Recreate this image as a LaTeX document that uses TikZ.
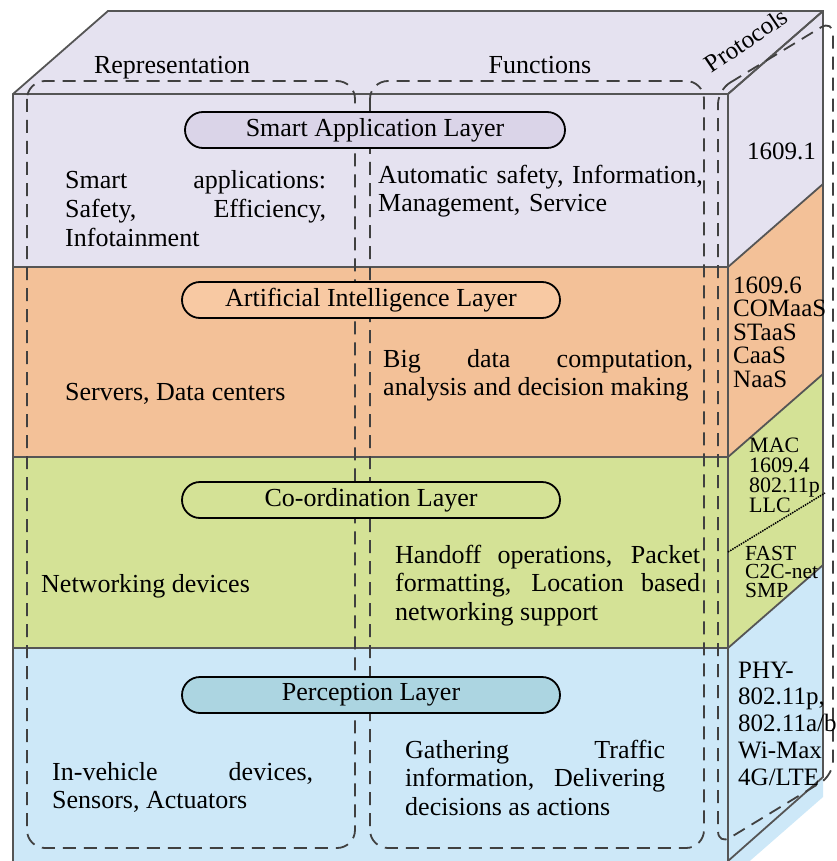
\documentclass[tikz,border=0pt]{standalone}
\usepackage{fontspec}
\setmainfont{Liberation Serif}
\usetikzlibrary{shapes.misc}

\definecolor{appfill}{RGB}{229,226,240}
\definecolor{aifill}{RGB}{243,193,152}
\definecolor{coordfill}{RGB}{212,226,150}
\definecolor{percfill}{RGB}{205,232,248}
\definecolor{apppill}{RGB}{218,212,232}
\definecolor{aipill}{RGB}{248,201,163}
\definecolor{coordpill}{RGB}{212,226,150}
\definecolor{percpill}{RGB}{172,213,225}
\definecolor{edgegray}{RGB}{85,85,85}

\tikzset{
  cubeedge/.style={draw=edgegray, line width=1.8pt},
  dashbox/.style={draw=black!75, line width=1.8pt, dash pattern=on 13pt off 8pt},
  pill/.style={rounded rectangle, draw=black, line width=1.8pt, minimum height=36pt, inner sep=0pt, font=\fontsize{26}{28}\selectfont},
  bodytext/.style={inner sep=0pt, align=justify, font=\fontsize{26}{28.5}\selectfont},
  sidetext/.style={inner sep=0pt, align=left, font=\fontsize{25}{23.5}\selectfont},
  smalltext/.style={inner sep=0pt, align=left, font=\fontsize{22}{20}\selectfont}
}

% one coloured slab: front part and side part
\newcommand{\Slab}[3]{
  \fill[#1] (13,#2) rectangle (728,#3);
  \fill[#1] (728,#2) -- (823,#2-83) -- (823,#3-83) -- (728,#3) -- cycle;
  \draw[cubeedge] (13,#2) -- (728,#2) -- (823,#2-83);
}

\begin{document}
\begin{tikzpicture}[x=1pt, y=-1pt]
  \useasboundingbox[fill=white] (0,0) rectangle (836,861);

  % top face
  \fill[appfill] (13,94) -- (108,11) -- (823,11) -- (728,94) -- cycle;

  \Slab{appfill}{94}{267}
  \Slab{aifill}{267}{457}
  \Slab{coordfill}{457}{648}
  \Slab{percfill}{648}{880}

  \draw[cubeedge] (13,880) -- (13,94) -- (108,11) -- (823,11) -- (823,777) -- (728,861);
  \draw[cubeedge] (728,94) -- (823,11);
  \draw[cubeedge] (728,94) -- (728,880);

  % split of the co-ordination protocols
  \coordinate (dotA) at (728,552);
  \coordinate (dotB) at (825,493);
  \draw[densely dotted, line width=1.5pt] (dotA) -- (dotB);

  % dashed groups
  \draw[dashbox, rounded corners=18pt] (27,81) rectangle (355,848);
  \draw[dashbox, rounded corners=18pt] (370,81) rectangle (704,848);
  \draw[dashbox, rounded corners=14pt] (718,90) -- (833,20) -- (833,775) -- (718,845) -- cycle;

  \node[font=\fontsize{26}{28}\selectfont, anchor=base] (repLabel) at (172,74) {Representation};
  \node[font=\fontsize{26}{28}\selectfont, anchor=base] (funLabel) at (540,74) {Functions};
  \node[font=\fontsize{25}{28}\selectfont, rotate=34, inner sep=0pt] (protoLabel) at (746,40) {Protocols};

  % layer names
  \node[pill, fill=apppill, minimum width=380pt] (appPill) at (375,130) {Smart Application Layer};
  \node[pill, fill=aipill, minimum width=378pt] (aiPill) at (371,300) {Artificial Intelligence Layer};
  \node[pill, fill=coordpill, minimum width=378pt] (coordPill) at (371,500) {Co-ordination Layer};
  \node[pill, fill=percpill, minimum width=378pt] (percPill) at (371,695) {Perception Layer};

  % smart application layer
  \node[bodytext, text width=261pt, anchor=base west] (appRep) at (65,189)
    {Smart applications:\linebreak Safety, Efficiency,\linebreak Infotainment};
  \node[bodytext, text width=326pt, anchor=base west, align=left] (appFun) at (378,183)
    {Automatic safety, Information,\\Management, Service};
  \node[sidetext, anchor=base west] (appProto) at (747,160) {1609.1};

  % artificial intelligence layer
  \node[bodytext, anchor=base west] (aiRep) at (65,400) {Servers, Data centers};
  \node[bodytext, text width=310pt, anchor=base west] (aiFun) at (383,367)
    {Big data computation,\linebreak \mbox{analysis and decision making}};
  \node[sidetext, anchor=base west] (aiProto) at (733,387)
    {1609.6\\COMaaS\\STaaS\\CaaS\\NaaS};

  % co-ordination layer
  \node[bodytext, anchor=base west] (coordRep) at (41,592) {Networking devices};
  \node[bodytext, text width=305pt, anchor=base west] (coordFun) at (395,563)
    {Handoff operations, Packet\linebreak formatting, Location based\linebreak networking support};
  \node[smalltext, anchor=base west] (macProto) at (749,512)
    {MAC\\1609.4\\802.11p\\LLC};
  \node[smalltext, anchor=base west, font=\fontsize{21.5}{18.5}\selectfont] (netProto) at (745,597)
    {FAST\\C2C-net\\SMP};

  % perception layer
  \node[bodytext, text width=261pt, anchor=base west] (percRep) at (52,780)
    {In-vehicle devices,\linebreak Sensors, Actuators};
  \node[bodytext, text width=260pt, anchor=base west] (percFun) at (405,758)
    {Gathering Traffic\linebreak information, Delivering\linebreak decisions as actions};
  \node[sidetext, anchor=base west, font=\fontsize{25}{26.75}\selectfont] (phyProto) at (738,785)
    {PHY-\\802.11p,\\802.11a/b\\Wi-Max\\4G/LTE};
\end{tikzpicture}
\end{document}
